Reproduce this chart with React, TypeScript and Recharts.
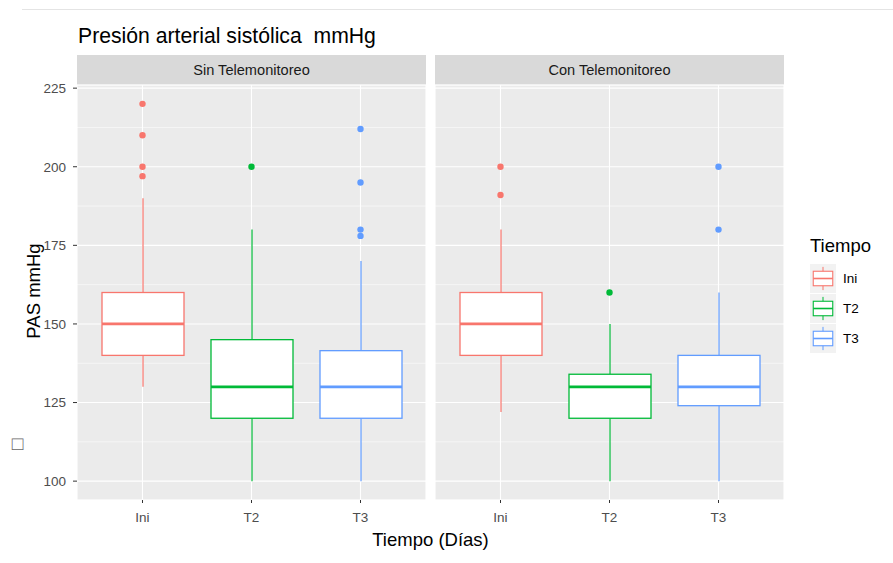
import React from 'react';
import { ComposedChart, Bar, Scatter, XAxis, YAxis, CartesianGrid } from 'recharts';

const categories = ['Ini', 'T2', 'T3'];
const colors = ['#F8766D', '#00BA38', '#619CFF'];
const panelTitles = ['Sin Telemonitoreo', 'Con Telemonitoreo'];
const yTicks = [100, 125, 150, 175, 200, 225];
const yMinorTicks = [112.5, 137.5, 162.5, 187.5, 212.5];
const yDomain = [94, 226];

// Sin Telemonitoreo
const sinLower = [130, 100, 100];
const sinQ1 = [140, 120, 120];
const sinMedian = [150, 130, 130];
const sinQ3 = [160, 145, 141.5];
const sinUpper = [190, 180, 170];
const sinOutliers = [[220, 210, 200, 197], [200], [212, 195, 180, 178]];

// Con Telemonitoreo
const conLower = [122, 100, 100];
const conQ1 = [140, 120, 124];
const conMedian = [150, 130, 130];
const conQ3 = [160, 134, 140];
const conUpper = [180, 150, 160];
const conOutliers = [[200, 191], [160], [200, 180]];

const buildBoxes = (lo: number[], q1: number[], med: number[], q3: number[], hi: number[]) =>
  categories.map((t, i) => ({
    t,
    color: colors[i],
    lower: lo[i],
    q1: q1[i],
    median: med[i],
    q3: q3[i],
    upper: hi[i],
    box: [q1[i], q3[i]],
  }));

const buildOutliers = (out: number[][]) =>
  out.flatMap((vals, i) => vals.map((v) => ({ t: categories[i], v, color: colors[i] })));

const sinData = buildBoxes(sinLower, sinQ1, sinMedian, sinQ3, sinUpper);
const conData = buildBoxes(conLower, conQ1, conMedian, conQ3, conUpper);
const sinOut = buildOutliers(sinOutliers);
const conOut = buildOutliers(conOutliers);

const FONT = '"Liberation Sans", Arial, Helvetica, sans-serif';

const BoxShape = (props: any) => {
  const { x, y, width, height, payload } = props;
  if (!payload || height == null || isNaN(height)) return null;
  const ppu = height / (payload.q3 - payload.q1);
  const cx = x + width / 2;
  const c = payload.color;
  const yMed = y + (payload.q3 - payload.median) * ppu;
  const yHi = y - (payload.upper - payload.q3) * ppu;
  const yLo = y + height + (payload.q1 - payload.lower) * ppu;
  return (
    <g>
      <line x1={cx} x2={cx} y1={yHi} y2={y} stroke={c} strokeWidth={1.2} />
      <line x1={cx} x2={cx} y1={y + height} y2={yLo} stroke={c} strokeWidth={1.2} />
      <rect x={x} y={y} width={width} height={height} fill="#FFFFFF" stroke={c} strokeWidth={1.3} />
      <line x1={x} x2={x + width} y1={yMed} y2={yMed} stroke={c} strokeWidth={2.8} />
    </g>
  );
};

const DotShape = (props: any) => {
  const { cx, cy, payload } = props;
  if (cx == null || cy == null) return null;
  return <circle cx={cx} cy={cy} r={3.2} fill={payload.color} />;
};

function Panel(props: { data: any[]; outliers: any[]; left: number; width: number; margin: any; showY: boolean }) {
  const { data, outliers, left, width, margin, showY } = props;
  return (
    <div style={{ position: 'absolute', left, top: 0, width, height: 563 }}>
      <ComposedChart width={width} height={563} data={data} margin={margin}>
        <CartesianGrid fill="#EBEBEB" fillOpacity={1} stroke="#FFFFFF" strokeWidth={1.1} />
        <CartesianGrid yAxisId="minor" vertical={false} stroke="#FFFFFF" strokeWidth={0.55} />
        <XAxis
          dataKey="t"
          type="category"
          allowDuplicatedCategory={false}
          padding={{ left: 11, right: 11 }}
          axisLine={false}
          tickLine={{ stroke: '#333333' }}
          tickSize={3}
          tickMargin={9}
          height={30}
          tick={{ fill: '#4D4D4D', fontSize: 13.5 }}
        />
        <YAxis
          type="number"
          domain={yDomain}
          ticks={yTicks}
          allowDataOverflow
          hide={!showY}
          width={77}
          axisLine={false}
          tickLine={{ stroke: '#333333' }}
          tickSize={4}
          tickMargin={7}
          tick={{ fill: '#4D4D4D', fontSize: 13.5 }}
        />
        <YAxis yAxisId="minor" type="number" domain={yDomain} ticks={yMinorTicks} allowDataOverflow hide />
        <Bar dataKey="box" barSize={82} shape={<BoxShape />} isAnimationActive={false} />
        <Scatter data={outliers} dataKey="v" shape={<DotShape />} isAnimationActive={false} />
      </ComposedChart>
    </div>
  );
}

const legendY = [264, 294, 324];

export default function App() {
  return (
    <div
      style={{
        position: 'fixed',
        left: 0,
        top: 0,
        width: 893,
        height: 563,
        background: '#FFFFFF',
        fontFamily: FONT,
        overflow: 'hidden',
      }}
    >
      <svg width={893} height={563} style={{ position: 'absolute', left: 0, top: 0 }}>
        <line x1={22} x2={893} y1={9.5} y2={9.5} stroke="#E4E4E4" strokeWidth={1} />
        <text x={78} y={43} fontSize={21.2} fill="#000000" style={{ whiteSpace: 'pre' }}>
          {'Presión arterial sistólica  mmHg'}
        </text>
        {panelTitles.map((p, i) => {
          const x0 = i === 0 ? 77 : 435;
          return (
            <g key={p}>
              <rect x={x0} y={55} width={349} height={30} fill="#D9D9D9" />
              <text x={x0 + 174.5} y={70} fontSize={14.6} fill="#1A1A1A" textAnchor="middle" dominantBaseline="central">
                {p}
              </text>
            </g>
          );
        })}
        <text x={40} y={291} fontSize={18.5} fill="#000000" textAnchor="middle" transform="rotate(-90 40 291)">
          PAS mmHg
        </text>
        <text x={17.5} y={443} fontSize={19} fill="#666666" textAnchor="middle" dominantBaseline="central">
          □
        </text>
        <text x={430.5} y={546} fontSize={18.5} fill="#000000" textAnchor="middle">
          Tiempo (Días)
        </text>
        <text x={810} y={252} fontSize={18.5} fill="#000000">
          Tiempo
        </text>
        {categories.map((c, i) => {
          const y0 = legendY[i];
          const kx = 810;
          const kw = 26;
          const kh = 29;
          const bx0 = kx + kw * 0.125;
          const bw = kw * 0.75;
          const cx = kx + kw / 2;
          return (
            <g key={c}>
              <rect x={kx} y={y0} width={kw} height={kh} fill="#F2F2F2" />
              <line x1={cx} x2={cx} y1={y0 + kh * 0.1} y2={y0 + kh * 0.9} stroke={colors[i]} strokeWidth={1} />
              <rect x={bx0} y={y0 + kh * 0.25} width={bw} height={kh * 0.5} fill="#FFFFFF" stroke={colors[i]} strokeWidth={1.1} />
              <line x1={bx0} x2={bx0 + bw} y1={y0 + kh / 2} y2={y0 + kh / 2} stroke={colors[i]} strokeWidth={1.6} />
              <text x={843} y={y0 + kh / 2} fontSize={13.5} fill="#000000" dominantBaseline="central">
                {c}
              </text>
            </g>
          );
        })}
      </svg>
      <Panel data={sinData} outliers={sinOut} left={0} width={430} margin={{ top: 85, right: 4, bottom: 33, left: 0 }} showY />
      <Panel data={conData} outliers={conOut} left={430} width={463} margin={{ top: 85, right: 109, bottom: 33, left: 5 }} showY={false} />
    </div>
  );
}
